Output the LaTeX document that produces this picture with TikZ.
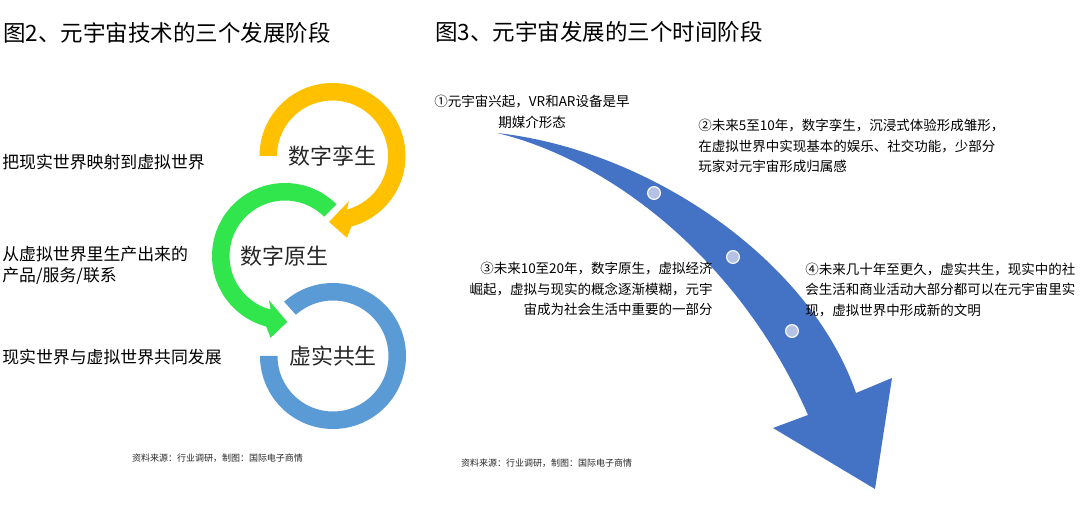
\documentclass[tikz,border=0pt]{standalone}
\usepackage{fontspec}
\setmainfont{Noto Sans CJK SC}
\usepackage{xcolor}
\usepackage{tikz}
\usetikzlibrary{calc}

\definecolor{ringyellow}{HTML}{FFC000}
\definecolor{ringgreen}{HTML}{31E54D}
\definecolor{ringblue}{HTML}{5B9BD5}
\definecolor{arrowblue}{HTML}{4472C4}
\definecolor{dotfill}{HTML}{B4C2E6}
\definecolor{textgray}{HTML}{262626}

\tikzset{
	headline/.style={anchor=west, inner sep=0pt, text=black, font=\fontsize{16}{19}\selectfont},
	leftline/.style={anchor=west, align=left, inner sep=0pt, text=black, font=\fontsize{12}{15}\selectfont},
	ringname/.style={inner sep=0pt, text=textgray, font=\fontsize{15.6}{18}\selectfont},
	stagenote/.style={inner sep=0pt, text=black, font=\fontsize{9.6}{14.6}\selectfont},
	srcline/.style={inner sep=0pt, text=textgray, font=\fontsize{6.4}{8}\selectfont},
	timedot/.style={circle, inner sep=0pt, minimum size=3.2mm, fill=dotfill, draw=white, line width=0.8pt}
}

\begin{document}
\begin{tikzpicture} [x=0.025cm, y=0.025cm]
		\useasboundingbox (0,0) rectangle (1080,505);
		%----------------------------------------------------
		% Titles of the two figures
		%----------------------------------------------------
		\node [headline] (title2) at (3,472) {图2、元宇宙技术的三个发展阶段};
		\node [headline] (title3) at (435,473) {图3、元宇宙发展的三个时间阶段};

		%----------------------------------------------------
		% Left figure: three rings, centres Y, G and B
		%----------------------------------------------------
		\coordinate (Y) at (332.5,349);
		\coordinate (G) at (285,249);
		\coordinate (B) at (333,149);

		\fill [ringyellow] ($(Y)+(180:73)$) arc [start angle=180, end angle=-75, radius=73]
			-- ($(Y)+(-80:83)$) -- ($(Y)+(-93:66)$) -- ($(Y)+(-70:48)$)
			-- ($(Y)+(-75:55.5)$) arc [start angle=-75, end angle=180, radius=55.5] -- cycle;

		\fill [ringgreen] ($(G)+(45:73)$) arc [start angle=45, end angle=255, radius=73]
			-- ($(G)+(260:83)$) -- ($(G)+(272:66)$) -- ($(G)+(250:47)$)
			-- ($(G)+(255:55.5)$) arc [start angle=255, end angle=45, radius=55.5] -- cycle;

		\fill [ringblue] ($(B)+(132:73)$) arc [start angle=132, end angle=-180, radius=73]
			-- ($(B)+(180:55.5)$) arc [start angle=-180, end angle=132, radius=55.5] -- cycle;

		\node [ringname] (twin) at (Y) {数字孪生};
		\node [ringname] (native) at (284.5,249) {数字原生};
		\node [ringname] (symb) at (B) {虚实共生};

		\node [leftline] (map) at (2,343) {把现实世界映射到虚拟世界};
		\node [leftline] (prod) at (2,239.5) {从虚拟世界里生产出来的\\产品/服务/联系};
		\node [leftline] (grow) at (2,148) {现实世界与虚拟世界共同发展};

		\node [srcline] (src2) at (217.5,47) {资料来源：行业调研，制图：国际电子商情};

		%----------------------------------------------------
		% Right figure: the tapered arrow and its dots
		%----------------------------------------------------
		\coordinate (start) at (497,372);
		\coordinate (upend) at (856,112);
		\coordinate (outbarb) at (892,127);
		\coordinate (tip) at (875,16);
		\coordinate (inbarb) at (773,77);
		\coordinate (lowend) at (808,90);
		\fill [arrowblue] (start) .. controls (650,355) and (810,245) .. (upend)
			-- (outbarb) -- (tip) -- (inbarb) -- (lowend)
			.. controls (740,245) and (610,345) .. (start) -- cycle;

		\node [timedot] (dot1) at (654,312) {};
		\node [timedot] (dot2) at (733,248) {};
		\node [timedot] (dot3) at (792,174) {};

		\node [stagenote, align=center] (st1) at (532,393)
			{①元宇宙兴起，VR和AR设备是早\\期媒介形态};
		\node [stagenote, align=left, anchor=west] (st2) at (698,359)
			{②未来5至10年，数字孪生，沉浸式体验形成雏形，\\在虚拟世界中实现基本的娱乐、社交功能，少部分\\玩家对元宇宙形成归属感};
		\node [stagenote, align=right, anchor=east] (st3) at (713,216)
			{③未来10至20年，数字原生，虚拟经济\\崛起，虚拟与现实的概念逐渐模糊，元宇\\宙成为社会生活中重要的一部分};
		\node [stagenote, align=left, anchor=west] (st4) at (805,215)
			{④未来几十年至更久，虚实共生，现实中的社\\会生活和商业活动大部分都可以在元宇宙里实\\现，虚拟世界中形成新的文明};

		\node [srcline] (src3) at (546.5,42) {资料来源：行业调研，制图：国际电子商情};

	\end{tikzpicture}
\end{document}
